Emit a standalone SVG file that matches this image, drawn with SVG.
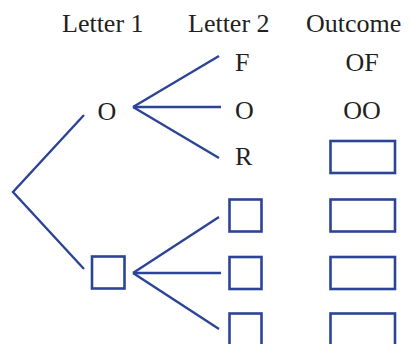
<svg xmlns="http://www.w3.org/2000/svg" width="413" height="344" viewBox="0 0 413 344">
<style>
.t{font-family:"Liberation Serif","Times New Roman",serif;font-size:26px;fill:#231f20}
.c{text-anchor:middle}
.ln{stroke:#2b4496;stroke-width:2.4;fill:none}
.bx{stroke:#2b4496;stroke-width:2.6;fill:#fff}
</style>
<rect width="413" height="344" fill="#fff"/>
<g id="headers">
<text class="t" x="62" y="32">Letter 1</text>
<text class="t" x="188" y="32">Letter 2</text>
<text class="t" x="306" y="32">Outcome</text>
</g>
<g id="connectors">
<polyline class="ln" points="84,115 13,192 84,269"/>
<line class="ln" x1="133" y1="107" x2="219" y2="56"/>
<line class="ln" x1="133" y1="107" x2="221" y2="107"/>
<line class="ln" x1="133" y1="107" x2="219" y2="158"/>
<line class="ln" x1="133" y1="273" x2="219" y2="217"/>
<line class="ln" x1="133" y1="273" x2="221" y2="273"/>
<line class="ln" x1="133" y1="273" x2="219" y2="329"/>
</g>
<g id="l1-O"><text class="t c" x="107" y="120">O</text></g>
<g id="l1-box"><rect class="bx" x="92" y="256.5" width="32.5" height="32"/></g>
<g id="l2-F"><text class="t" x="235" y="71">F</text></g>
<g id="l2-O"><text class="t" x="235" y="119">O</text></g>
<g id="l2-R"><text class="t" x="235" y="165">R</text></g>
<g id="l2-box1"><rect class="bx" x="229.5" y="199.5" width="32" height="32"/></g>
<g id="l2-box2"><rect class="bx" x="229.5" y="257" width="32" height="32"/></g>
<g id="l2-box3"><rect class="bx" x="229.5" y="313.5" width="32" height="34"/></g>
<g id="out-OF"><text class="t c" x="362" y="71">OF</text></g>
<g id="out-OO"><text class="t c" x="362" y="119">OO</text></g>
<g id="out-box1"><rect class="bx" x="330.5" y="141" width="64.5" height="32"/></g>
<g id="out-box2"><rect class="bx" x="330.5" y="199.5" width="64.5" height="32"/></g>
<g id="out-box3"><rect class="bx" x="330.5" y="257" width="64.5" height="32"/></g>
<g id="out-box4"><rect class="bx" x="330.5" y="313.5" width="64.5" height="34"/></g>
</svg>
